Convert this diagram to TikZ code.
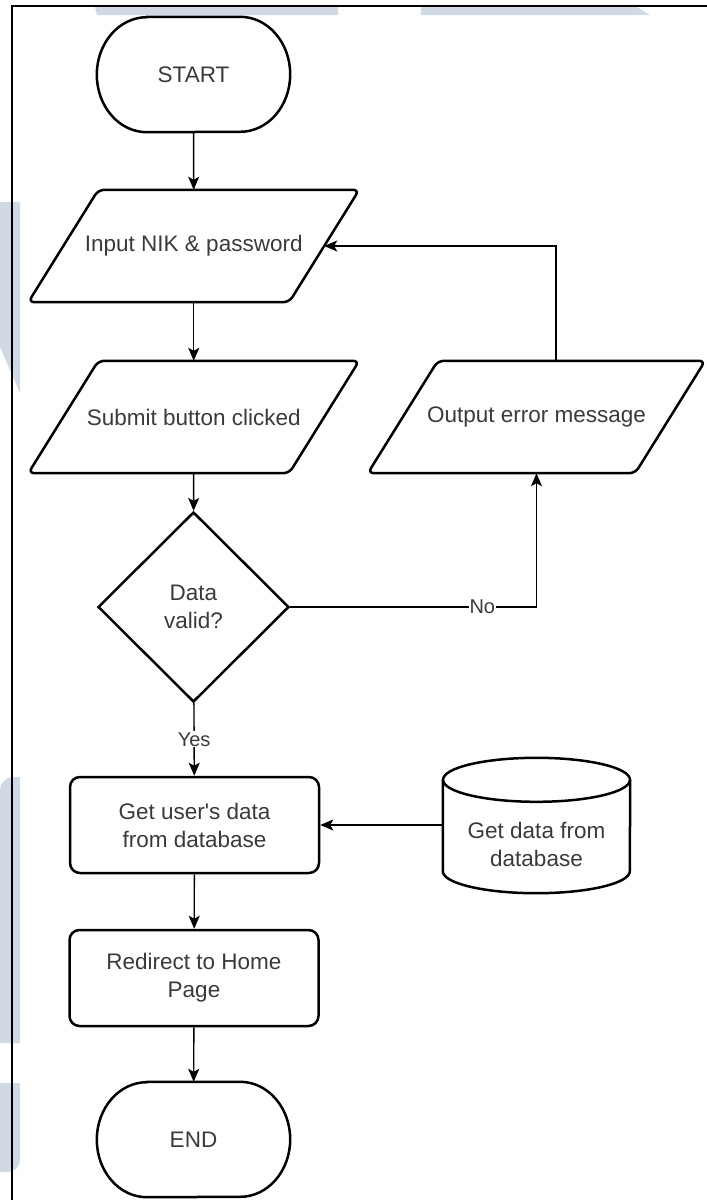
\documentclass[tikz,border=0pt]{standalone}
\usepackage{fontspec}
\setmainfont{Liberation Sans}[Ligatures=TeXOff]
\usetikzlibrary{shapes.geometric,arrows.meta}
\definecolor{wm}{HTML}{CFDAE5}
\definecolor{txt}{HTML}{3A3A3A}
% outline of a terminator: flat top and bottom, half-elliptic ends
\newcommand\termoutline[1]{%
  \draw[shp] ([xshift=50pt]#1.north west) -- ([xshift=-50pt]#1.north east)
    arc[start angle=90,end angle=-90,x radius=50pt,y radius=57.5pt]
    -- ([xshift=50pt]#1.south west)
    arc[start angle=270,end angle=90,x radius=50pt,y radius=57.5pt] -- cycle;}
% outline of an input/output parallelogram around a text node
\newcommand\iooutline[1]{%
  \draw[shp,rounded corners=6pt] ([xshift=-35pt]#1.south west) -- ([xshift=35pt]#1.north west)
    -- ([xshift=35pt]#1.north east) -- ([xshift=-35pt]#1.south east) -- cycle;}
\begin{document}
\begin{tikzpicture}[x=1pt,y=-1pt,
  font=\fontsize{22.5}{28}\selectfont, text=txt,
  shp/.style={draw=black, line width=2.5pt},
  txtbox/.style={inner sep=0pt, align=center},
  procbox/.style={shp, rounded corners=10pt, inner sep=0pt, align=center,
    minimum width=249pt, minimum height=96pt},
  decbox/.style={shp, diamond, inner sep=0pt, align=center,
    minimum width=191pt, minimum height=190pt},
  arr/.style={draw=black, line width=1.4pt,
    -{Stealth[length=13pt,width=11pt,inset=3pt]}},
  lbl/.style={fill=white, inner sep=1pt, font=\fontsize{20}{24}\selectfont}]

\useasboundingbox (0,0) rectangle (707,1200);

% faint background lettering
\fill[wm] (95,7) -- (338,7) -- (338,15) -- (97,15) -- cycle;
\fill[wm] (421,7) -- (637,7) -- (650,15) -- (421,15) -- cycle;
\fill[wm] (0,202) -- (20,202) -- (20,393) -- (0,347) -- cycle;
\fill[wm] (0,1043) -- (0,790) arc[start angle=180,end angle=90,radius=13pt]
  -- (20,777) -- (20,1043) -- cycle;
\fill[wm] (0,1083) -- (20,1083) -- (20,1160) arc[start angle=0,end angle=-90,radius=12pt]
  -- (0,1172) -- cycle;

% page frame
\draw[line width=1.2pt] (12,1200) -- (12,6) -- (707,6);

% nodes
\node[txtbox, minimum width=193pt, minimum height=115pt] (st) at (193.5,74.5) {START};
\termoutline{st}
\node[txtbox, minimum width=260.5pt, minimum height=112pt] (in) at (193.75,246) {Input NIK \& password};
\iooutline{in}
\node[txtbox, minimum width=260.5pt, minimum height=112pt] (sb) at (193.75,417) {Submit button clicked};
\iooutline{sb}
\node[txtbox, minimum width=267pt, minimum height=112pt] (out) at (536.5,417) {Output error message};
\iooutline{out}
\node[decbox] (dv) at (193.5,607) {Data\\valid?};
\node[procbox] (gu) at (194.5,825) {Get user's data\\from database};
\node[procbox] (rd) at (194,978) {Redirect to Home\\Page};
\node[txtbox, minimum width=193pt, minimum height=115pt] (en) at (193.5,1139.5) {END};
\termoutline{en}

% database cylinder
\node[txtbox, minimum width=187pt, minimum height=135pt] (db) at (536.5,825.5) {};
\node[txtbox] (dbt) at (536.5,844) {Get data from\\database};
\draw[shp] ([yshift=-22pt]db.north west) -- ([yshift=22pt]db.south west)
  arc[start angle=180,end angle=360,x radius=93.5pt,y radius=22pt]
  -- ([yshift=-22pt]db.north east);
\draw[shp] ([yshift=-22pt]db.north) ellipse[x radius=93.5pt,y radius=22pt];

% connectors
\draw[arr] (st) -- (in);
\draw[arr] (in) -- (sb);
\draw[arr] (sb) -- (dv);
\draw[arr] (dv) -- node[lbl] {Yes} (gu);
\draw[arr] (gu) -- (rd);
\draw[arr] (rd) -- (en);
\draw[arr] (dv.east) -| node[lbl, pos=0.39] {No} (out.south);
\draw[arr] ([xshift=19.5pt]out.north) |- (in.east);
\draw[arr] (gu.east -| db.west) -- (gu.east);
\end{tikzpicture}
\end{document}
